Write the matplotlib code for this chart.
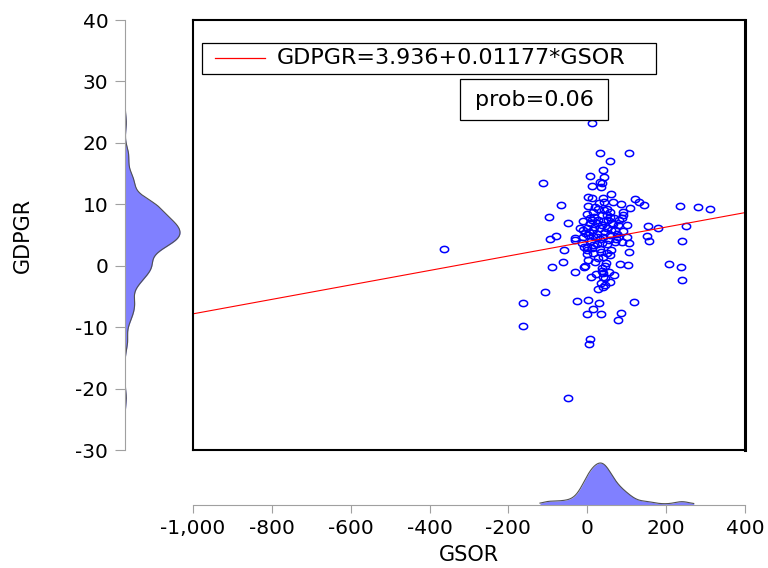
import numpy as np
import matplotlib
matplotlib.use('Agg')
import matplotlib.pyplot as plt
from matplotlib.patches import Rectangle
from matplotlib.lines import Line2D
from matplotlib.path import Path
import matplotlib.ticker as ticker

plt.rcParams['font.family'] = ['DejaVu Sans']
plt.rcParams['axes.unicode_minus'] = False

# regression results
intercept = 3.936
slope = 0.01177
prob = 0.06

# GSOR (x) and GDPGR (y)
gsor = [33.0, 104.8, 56.6, 38.9, 6.8, 43.1, 32.1, 36.4, 12.7, 35.5,
        2.5, 11.9, 40.6, 59.2, 43.1, 64.3, 84.5, 107.4, 121.7, 131.9,
        144.6, -67.6, -48.2, 49.0, 27.9, -1.7, 15.2, 91.3, 89.6, 17.8,
        36.4, 49.0, 57.5, 68.5, 81.2, 87.1, 11.0, -10.1, -18.6, 6.8,
        23.7, 40.6, 61.7, 78.6, 99.8, 153.0, 180.0, -1.7, 15.2, 32.1,
        49.0, 70.2, 91.3, -31.3, -10.1, 2.5, 23.7, 40.6, 57.5, 78.6,
        99.8, 152.2, 49.0, 87.1, -1.7,
        -31.3, -14.3, 15.2, 36.4, 70.2, 106.5, 157.2, -59.2, -1.7, 15.2,
        32.1, 49.0, 0.0, 40.6, 57.5, 105.7, -60.8, -5.9, -8.4, 2.5,
        19.5, 44.8, 82.9, 104.0, -32.1, 36.4, 40.6, 55.8, 67.6, 8.5,
        40.6, 57.5, 33.8, 44.8, 27.9, -27.0, 2.5, 30.5, 118.4, 15.2,
        -1.7, 34.7, 86.2, 78.6, 6.8, 5.1,
        12.8, -111.5, -97.9, -78.5, -94.6, -88.6, -106.4, -163.9, -163.9, -363.5,
        -48.1, 235.0, 281.6, 310.4, 249.5, 241.0, 206.4, 238.5, 241.0,
        5.0, 10.0, 18.0, 25.0, 28.0, 33.0, 38.0, 45.0, 52.0, 55.0,
        60.0, 65.0, 72.0, 8.0, 20.0, 42.0, -5.0, -8.0, 12.0, 27.0,
        48.0, 38.0, 22.0, 60.0, 75.0, 3.0, 30.0, 15.0, 50.0, 35.0,
        45.0, 40.0, 58.0, -12.0, 24.0]
gdpgr = [18.3, 18.3, 17.1, 15.6, 14.6, 14.5, 13.7, 13.5, 12.97, 12.8,
         11.2, 11.1, 10.96, 11.6, 10.4, 10.4, 10.0, 9.4, 10.8, 10.4,
         9.9, 9.9, 7.0, 9.3, 9.2, 8.5, 8.8, 8.8, 8.2, 8.0,
         8.3, 8.3, 8.0, 7.7, 7.4, 7.7, 7.4, 7.2, 6.1, 6.9,
         6.9, 7.2, 6.9, 6.6, 6.6, 6.5, 6.1, 6.1, 5.8, 6.1,
         6.1, 5.8, 5.7, 4.45, 4.7, 5.0, 4.7, 4.7, 5.0, 4.7,
         4.7, 4.9, 3.6, 3.9, 3.1,
         4.2, 3.75, 3.4, 3.75, 3.9, 3.75, 4.1, 2.55, 2.55, 2.1,
         2.7, 2.0, 1.9, 1.5, 1.7, 2.17, 0.55, -0.05, -0.27, 0.92,
         0.65, -0.05, 0.27, 0.06, -0.97, -0.43, -1.25, -1.1, -1.5, -1.9,
         -1.9, -2.6, -2.8, -3.1, -3.8, -5.7, -5.5, -6.0, -5.9, -7.1,
         -7.9, -7.8, -7.7, -8.8, -12.0, -12.8,
         23.3, 13.5, 7.9, 4.9, 4.3, -0.15, -4.2, -6.1, -9.8, 2.7,
         -21.6, 9.8, 9.6, 9.3, 6.5, 4.0, 0.3, -0.15, -2.4,
         5.5, 4.0, 6.3, 5.2, 7.5, 4.4, 6.6, 5.5, 7.4, 4.2,
         5.8, 6.8, 4.4, 7.8, 9.5, 9.0, 5.4, 3.0, 2.9, 1.2,
         0.5, -0.8, -1.3, 2.6, 5.2, 9.8, 10.2, 4.8, 6.2, 2.3,
         -2.0, -3.5, 8.7, 5.8, 3.6]

x_ticks = [-1000, -800, -600, -400, -200, 0, 200, 400]
y_ticks = [-30, -20, -10, 0, 10, 20, 30, 40]

gsor = np.array(gsor)
gdpgr = np.array(gdpgr)


def kde(data, grid, h):
    z = (grid[:, None] - data[None, :]) / h
    return np.exp(-0.5 * z ** 2).sum(axis=1) / (len(data) * h * np.sqrt(2 * np.pi))


fill_c = '#8080ff'
edge_c = '#505050'
grey = '#a0a0a0'

# slightly flattened circle, like the eviews symbol
t = np.linspace(0, 2 * np.pi, 41)
oval = Path(np.column_stack([np.cos(t), 0.75 * np.sin(t)]))

fig = plt.figure(figsize=(7.68, 5.68), dpi=100)
W, H = 768.0, 568.0
ax = fig.add_axes([193 / W, 1 - 450 / H, 552 / W, 430 / H])
axl = fig.add_axes([125 / W, 1 - 450 / H, 66 / W, 430 / H])
axb = fig.add_axes([193 / W, 1 - 505 / H, 552 / W, 48 / H])

# main scatter
ax.plot(gsor, gdpgr, ls='none', marker=oval, ms=6.0, mfc='none', mec='#0000ff', mew=1.1)
xl = np.array([-1000, 400])
ax.plot(xl, intercept + slope * xl, color='red', lw=0.8)
ax.set_xlim(-1000, 400)
ax.set_ylim(-30, 40)
ax.set_xticks([])
ax.set_yticks([])
for s in ax.spines.values():
    s.set_linewidth(1.5)
    s.set_color('black')
ax.spines['right'].set_linewidth(2.2)

# legend box
ax.add_patch(Rectangle((0.0163, 0.874), 0.8224, 0.0725, transform=ax.transAxes,
                       fill=True, fc='white', ec='black', lw=0.9, zorder=5))
ax.add_line(Line2D([0.040, 0.130], [0.9105, 0.9105], transform=ax.transAxes,
                   color='red', lw=0.9, zorder=6))
ax.text(0.152, 0.9105, 'GDPGR=%.3f+%.5f*GSOR' % (intercept, slope), transform=ax.transAxes,
        fontsize=16, va='center', ha='left', zorder=6)
ax.add_patch(Rectangle((0.4837, 0.7674), 0.2681, 0.0954, transform=ax.transAxes,
                       fill=True, fc='white', ec='black', lw=0.9, zorder=5))
ax.text(0.6178, 0.815, 'prob=%.2f' % prob, transform=ax.transAxes,
        fontsize=16, va='center', ha='center', zorder=6)

# left marginal density
gy = np.linspace(-26, 37, 600)
dy = kde(gdpgr, gy, 1.25)
axl.fill_betweenx(gy, 0, dy, color=fill_c, lw=0)
axl.plot(dy, gy, color=edge_c, lw=0.8)
axl.set_xlim(0, dy.max() * 66 / 55)
axl.set_ylim(-30, 40)
axl.set_yticks(y_ticks)
axl.set_xticks([])
for k in ['top', 'right', 'bottom']:
    axl.spines[k].set_visible(False)
axl.spines['left'].set_color(grey)
axl.tick_params(axis='y', direction='out', length=7, color=grey, labelsize=14.5, pad=5)
axl.set_ylabel('GDPGR', fontsize=15)
axl.yaxis.set_label_coords(-1.39, 0.498)
axl.patch.set_alpha(0)

# bottom marginal density
gx = np.linspace(-120, 270, 600)
dx = kde(gsor, gx, 18)
axb.fill_between(gx, 0, dx, color=fill_c, lw=0)
axb.plot(gx, dx, color=edge_c, lw=0.8)
axb.set_xlim(-1000, 400)
axb.set_ylim(0, dx.max() * 48 / 42)
axb.set_xticks(x_ticks)
axb.set_yticks([])
axb.xaxis.set_major_formatter(ticker.FuncFormatter(lambda v, p: '{:,.0f}'.format(v)))
for k in ['top', 'right', 'left']:
    axb.spines[k].set_visible(False)
axb.spines['bottom'].set_color(grey)
axb.tick_params(axis='x', direction='out', length=6, color=grey, labelsize=14.5, pad=4)
axb.set_xlabel('GSOR', fontsize=15, labelpad=5)
axb.patch.set_alpha(0)

fig.savefig('out.png', dpi=100)
